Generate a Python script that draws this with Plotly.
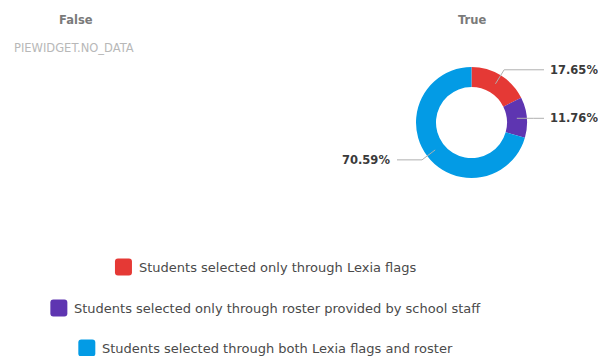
import math
import plotly.graph_objects as go

# Data
panel_titles = ["False", "True"]
categories = [
    "Students selected only through Lexia flags",
    "Students selected only through roster provided by school staff",
    "Students selected through both Lexia flags and roster",
]
shares = [17.65, 11.76, 70.59]
colors = ["#E53935", "#5E35B1", "#039BE5"]
no_data_text = "PIEWIDGET.NO_DATA"

W, H = 598, 356
FONT = "DejaVu Sans, sans-serif"

# Donut geometry (pixels)
cx, cy, R = 471.5, 122.5, 55.5
hole = 0.64

# Approximate DejaVu Sans advance widths (em) for centring legend rows
GLYPH_EM = {
    " ": .318, "S": .635, "L": .557, "t": .392, "u": .634, "d": .635, "e": .615,
    "n": .634, "s": .521, "l": .278, "c": .550, "o": .612, "y": .592, "h": .634,
    "r": .411, "g": .635, "x": .592, "i": .278, "a": .613, "f": .352, "v": .592,
    "p": .635, "b": .635, "w": .818, "k": .579,
}


def text_width(s, size):
    return sum(GLYPH_EM.get(ch, .6) for ch in s) * size


def px(x):
    return x / W


def py(y):
    return 1 - y / H


fig = go.Figure()
fig.add_trace(go.Pie(
    labels=categories,
    values=shares,
    marker=dict(colors=colors, line=dict(width=0)),
    hole=hole,
    sort=False,
    direction="clockwise",
    rotation=0,
    textinfo="none",
    hoverinfo="label+percent",
    showlegend=False,
    domain=dict(x=[px(cx - R), px(cx + R)], y=[py(cy + R), py(cy - R)]),
))

annotations = []
shapes = []

# Panel titles
for title, x in zip(panel_titles, [76, 472]):
    annotations.append(dict(
        x=px(x), y=py(20), xref="paper", yref="paper", text=f"<b>{title}</b>",
        showarrow=False, font=dict(family=FONT, size=11.5, color="#7a7a7a"),
        xanchor="center", yanchor="middle"))

annotations.append(dict(
    x=px(12), y=py(48), xref="paper", yref="paper", text=no_data_text,
    showarrow=False, font=dict(family=FONT, size=11.5, color="#b8b8b8"),
    xanchor="left", yanchor="middle"))

# Outside percentage labels with elbow connectors, placed from slice mid-angles
total = sum(shares)
r_mid = R * (1 + hole) / 2
r_elbow = 62
cum = 0.0
for v in shares:
    mid = (cum + v / 2) / total * 2 * math.pi
    cum += v
    sx, sy = cx + r_mid * math.sin(mid), cy - r_mid * math.cos(mid)
    ex, ey = cx + r_elbow * math.sin(mid), cy - r_elbow * math.cos(mid)
    right = math.sin(mid) >= 0
    if abs(ey - sy) < 3:
        ey = sy
    endx = 544 if right else 397
    path = f"M {px(sx)},{py(sy)} L {px(ex)},{py(ey)} L {px(endx)},{py(ey)}"
    shapes.append(dict(type="path", xref="paper", yref="paper", path=path,
                       line=dict(color="#b0b0b0", width=1)))
    annotations.append(dict(
        x=px(endx + (4 if right else -5)), y=py(ey), xref="paper", yref="paper",
        text=f"<b>{v:.2f}%</b>", showarrow=False,
        font=dict(family=FONT, size=11.5, color="#3a3a3a"),
        xanchor="left" if right else "right", yanchor="middle"))

# Centered legend rows with rounded colour swatches
legend_center = 265
legend_ys = [267, 308, 348]
legend_size = 13
sq, gap, rr = 17, 5, 3
for name, col, ly in zip(categories, colors, legend_ys):
    total_w = sq + gap + text_width(name, legend_size)
    x0 = legend_center - total_w / 2
    x1 = x0 + sq
    y0, y1 = ly - sq / 2, ly + sq / 2
    pts = [
        ("M", x0 + rr, y0), ("L", x1 - rr, y0), ("Q", x1, y0, x1, y0 + rr),
        ("L", x1, y1 - rr), ("Q", x1, y1, x1 - rr, y1), ("L", x0 + rr, y1),
        ("Q", x0, y1, x0, y1 - rr), ("L", x0, y0 + rr), ("Q", x0, y0, x0 + rr, y0),
    ]
    parts = []
    for p in pts:
        cmd, coords = p[0], p[1:]
        xy = [f"{px(coords[i])},{py(coords[i + 1])}" for i in range(0, len(coords), 2)]
        parts.append(cmd + " " + " ".join(xy))
    shapes.append(dict(type="path", xref="paper", yref="paper",
                       path=" ".join(parts) + " Z",
                       fillcolor=col, line=dict(width=0), layer="above"))
    annotations.append(dict(
        x=px(x1 + gap), y=py(ly), xref="paper", yref="paper", text=name,
        showarrow=False, font=dict(family=FONT, size=legend_size, color="#4a4a4a"),
        xanchor="left", yanchor="middle"))

fig.update_layout(
    width=W, height=H,
    margin=dict(l=0, r=0, t=0, b=0),
    paper_bgcolor="white", plot_bgcolor="white",
    annotations=annotations,
    shapes=shapes,
    showlegend=False,
)

fig.write_html("out.html")
